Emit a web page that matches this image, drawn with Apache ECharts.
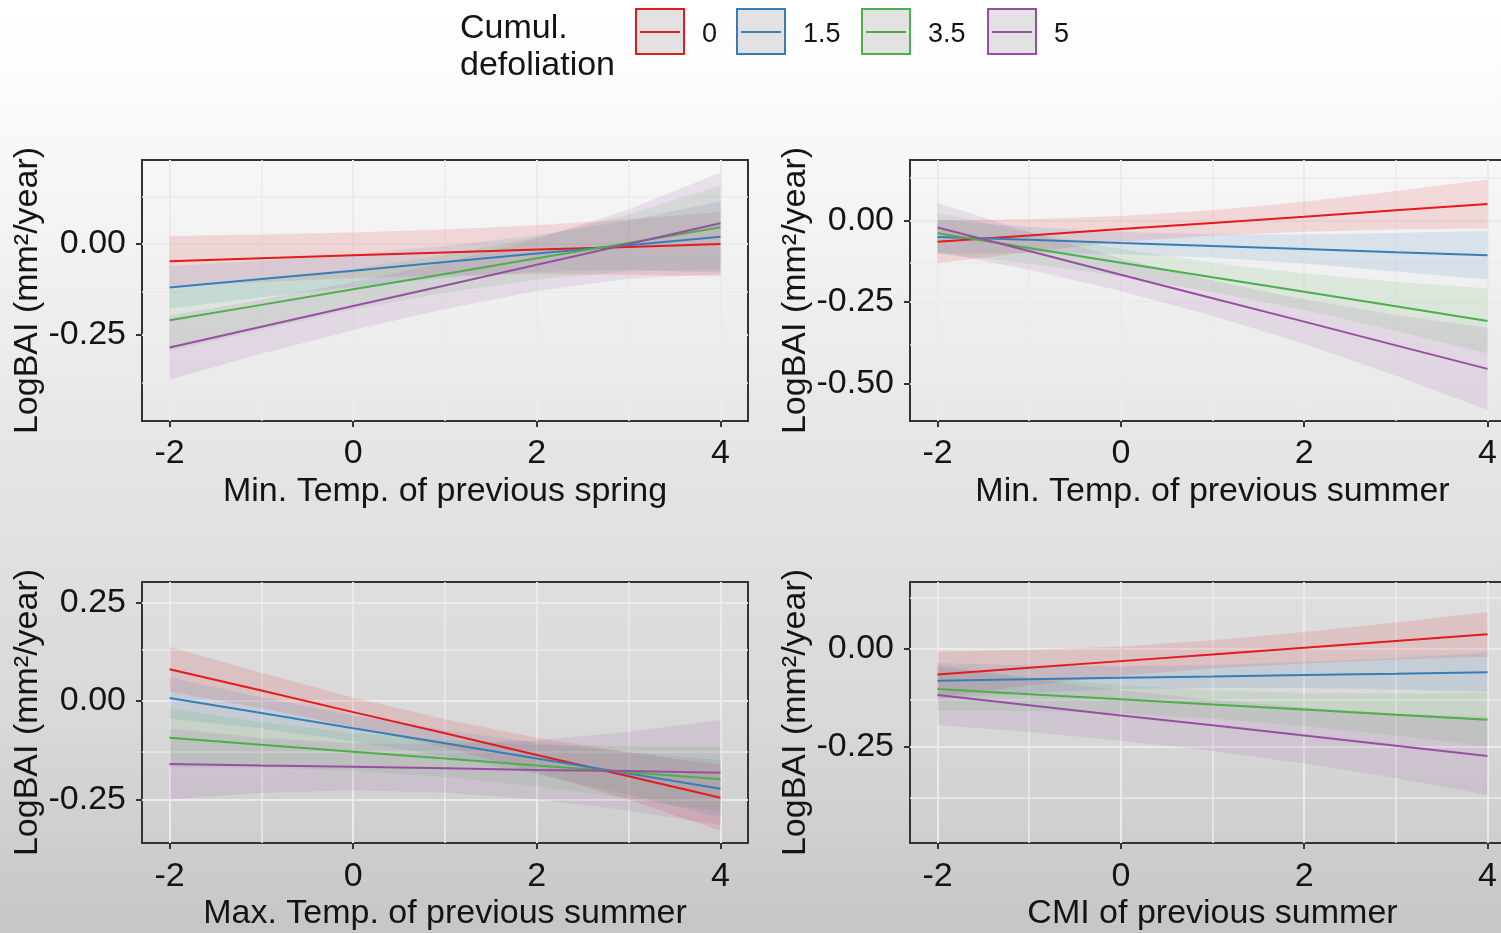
<!DOCTYPE html>
<html><head><meta charset="utf-8">
<script src="https://cdn.jsdelivr.net/npm/echarts@6/dist/echarts.min.js"></script>
<style>html,body{margin:0;padding:0;overflow:hidden;} #c{width:1501px;height:933px;}</style>
</head><body><div id="c"></div>
<script>
// ---------- data ----------
const xValues = [-2, -1, 0, 1, 2, 3, 4];
const xTicks = [-2, 0, 2, 4];
const xMinor = [-1, 1, 3];
const groups = ['0', '1.5', '3.5', '5'];
const colors = ['#E41A1C', '#377EB8', '#4DAF4A', '#984EA3'];
const legendTitle = 'Cumul.\ndefoliation';
const yTitle = 'LogBAI (mm²/year)';

// Panel 1: Min. Temp. of previous spring
const p1Title = 'Min. Temp. of previous spring';
const p1YTicks = [0, -0.25];
const p1YMinor = [0.125, -0.125, -0.375];
const p1Fit0 = [-0.047, -0.039, -0.031, -0.023, -0.015, -0.008, 0.000];
const p1Lo0  = [-0.116, -0.104, -0.094, -0.086, -0.082, -0.084, -0.088];
const p1Hi0  = [0.022, 0.026, 0.032, 0.040, 0.052, 0.068, 0.088];
const p1Fit1 = [-0.119, -0.096, -0.073, -0.049, -0.026, -0.003, 0.020];
const p1Lo1  = [-0.177, -0.146, -0.118, -0.093, -0.076, -0.071, -0.078];
const p1Hi1  = [-0.061, -0.046, -0.028, -0.005, 0.024, 0.065, 0.118];
const p1Fit2 = [-0.209, -0.167, -0.124, -0.082, -0.039, 0.003, 0.046];
const p1Lo2  = [-0.294, -0.235, -0.180, -0.134, -0.097, -0.075, -0.069];
const p1Hi2  = [-0.124, -0.099, -0.068, -0.030, 0.019, 0.081, 0.161];
const p1Fit3 = [-0.284, -0.227, -0.170, -0.114, -0.057, 0.000, 0.057];
const p1Lo3  = [-0.372, -0.301, -0.236, -0.178, -0.129, -0.095, -0.083];
const p1Hi3  = [-0.196, -0.153, -0.104, -0.050, 0.015, 0.095, 0.197];

// Panel 2: Min. Temp. of previous summer
const p2Title = 'Min. Temp. of previous summer';
const p2YTicks = [0, -0.25, -0.5];
const p2YMinor = [0.125, -0.125, -0.375];
const p2Fit0 = [-0.065, -0.046, -0.026, -0.007, 0.012, 0.032, 0.051];
const p2Lo0  = [-0.131, -0.096, -0.066, -0.046, -0.034, -0.027, -0.024];
const p2Hi0  = [0.001, 0.004, 0.014, 0.032, 0.058, 0.091, 0.126];
const p2Fit1 = [-0.050, -0.059, -0.069, -0.078, -0.087, -0.097, -0.106];
const p2Lo1  = [-0.102, -0.099, -0.103, -0.114, -0.132, -0.156, -0.181];
const p2Hi1  = [0.002, -0.019, -0.035, -0.042, -0.042, -0.038, -0.031];
const p2Fit2 = [-0.039, -0.084, -0.129, -0.174, -0.218, -0.263, -0.308];
const p2Lo2  = [-0.101, -0.132, -0.171, -0.219, -0.274, -0.338, -0.408];
const p2Hi2  = [0.023, -0.036, -0.087, -0.129, -0.162, -0.188, -0.208];
const p2Fit3 = [-0.021, -0.093, -0.166, -0.238, -0.310, -0.383, -0.455];
const p2Lo3  = [-0.097, -0.151, -0.216, -0.292, -0.378, -0.476, -0.581];
const p2Hi3  = [0.055, -0.035, -0.116, -0.184, -0.242, -0.290, -0.329];

// Panel 3: Max. Temp. of previous summer
const p3Title = 'Max. Temp. of previous summer';
const p3YTicks = [0.25, 0, -0.25];
const p3YMinor = [0.125, -0.125];
const p3Fit0 = [0.081, 0.027, -0.028, -0.082, -0.137, -0.191, -0.246];
const p3Lo0  = [0.024, -0.018, -0.065, -0.118, -0.181, -0.251, -0.330];
const p3Hi0  = [0.138, 0.072, 0.009, -0.046, -0.093, -0.131, -0.162];
const p3Fit1 = [0.008, -0.030, -0.069, -0.107, -0.146, -0.184, -0.223];
const p3Lo1  = [-0.044, -0.070, -0.102, -0.140, -0.186, -0.238, -0.296];
const p3Hi1  = [0.060, 0.010, -0.036, -0.074, -0.106, -0.130, -0.150];
const p3Fit2 = [-0.093, -0.111, -0.129, -0.146, -0.164, -0.181, -0.199];
const p3Lo2  = [-0.168, -0.169, -0.177, -0.193, -0.217, -0.247, -0.282];
const p3Hi2  = [-0.018, -0.053, -0.081, -0.099, -0.111, -0.115, -0.116];
const p3Fit3 = [-0.160, -0.164, -0.167, -0.171, -0.175, -0.178, -0.182];
const p3Lo3  = [-0.250, -0.234, -0.227, -0.233, -0.250, -0.278, -0.316];
const p3Hi3  = [-0.070, -0.094, -0.107, -0.109, -0.100, -0.078, -0.048];

// Panel 4: CMI of previous summer
const p4Title = 'CMI of previous summer';
const p4YTicks = [0, -0.25];
const p4YMinor = [0.125, -0.125, -0.375];
const p4Fit0 = [-0.066, -0.049, -0.032, -0.015, 0.002, 0.019, 0.036];
const p4Lo0  = [-0.124, -0.094, -0.069, -0.051, -0.038, -0.028, -0.021];
const p4Hi0  = [-0.008, -0.004, 0.005, 0.021, 0.042, 0.066, 0.093];
const p4Fit1 = [-0.082, -0.078, -0.074, -0.071, -0.067, -0.064, -0.060];
const p4Lo1  = [-0.127, -0.113, -0.103, -0.100, -0.100, -0.104, -0.110];
const p4Hi1  = [-0.037, -0.043, -0.045, -0.042, -0.034, -0.024, -0.010];
const p4Fit2 = [-0.103, -0.116, -0.129, -0.142, -0.155, -0.168, -0.181];
const p4Lo2  = [-0.158, -0.159, -0.165, -0.178, -0.197, -0.221, -0.249];
const p4Hi2  = [-0.048, -0.073, -0.093, -0.106, -0.113, -0.115, -0.113];
const p4Fit3 = [-0.118, -0.144, -0.170, -0.195, -0.221, -0.247, -0.273];
const p4Lo3  = [-0.194, -0.212, -0.234, -0.260, -0.292, -0.329, -0.372];
const p4Hi3  = [-0.042, -0.076, -0.106, -0.130, -0.150, -0.165, -0.174];

// ---------- layout / styling ----------
const FONT = '"Liberation Sans", Arial, sans-serif';
const TXT = '#141414';
const panels = [
  { title: p1Title, yTicks: p1YTicks, yMinor: p1YMinor, ymin: -0.486, ymax: 0.231,
    grid: { left: 142, top: 160, width: 606, height: 261 }, labGap: 16, nameGap: 54,
    fits: [p1Fit0, p1Fit1, p1Fit2, p1Fit3], los: [p1Lo0, p1Lo1, p1Lo2, p1Lo3], his: [p1Hi0, p1Hi1, p1Hi2, p1Hi3] },
  { title: p2Title, yTicks: p2YTicks, yMinor: p2YMinor, ymin: -0.615, ymax: 0.186,
    grid: { left: 910, top: 160, width: 605, height: 261 }, labGap: 16, nameGap: 54,
    fits: [p2Fit0, p2Fit1, p2Fit2, p2Fit3], los: [p2Lo0, p2Lo1, p2Lo2, p2Lo3], his: [p2Hi0, p2Hi1, p2Hi2, p2Hi3] },
  { title: p3Title, yTicks: p3YTicks, yMinor: p3YMinor, ymin: -0.361, ymax: 0.303,
    grid: { left: 142, top: 582, width: 606, height: 261 }, labGap: 17, nameGap: 54,
    fits: [p3Fit0, p3Fit1, p3Fit2, p3Fit3], los: [p3Lo0, p3Lo1, p3Lo2, p3Lo3], his: [p3Hi0, p3Hi1, p3Hi2, p3Hi3] },
  { title: p4Title, yTicks: p4YTicks, yMinor: p4YMinor, ymin: -0.494, ymax: 0.169,
    grid: { left: 910, top: 582, width: 605, height: 261 }, labGap: 17, nameGap: 54,
    fits: [p4Fit0, p4Fit1, p4Fit2, p4Fit3], los: [p4Lo0, p4Lo1, p4Lo2, p4Lo3], his: [p4Hi0, p4Hi1, p4Hi2, p4Hi3] }
];

function rgba(hex, a) {
  const n = parseInt(hex.slice(1), 16);
  return 'rgba(' + ((n >> 16) & 255) + ',' + ((n >> 8) & 255) + ',' + (n & 255) + ',' + a + ')';
}

const grids = [], xAxes = [], yAxes = [], series = [];
panels.forEach((p, pi) => {
  grids.push(Object.assign({ show: true, borderColor: '#333', borderWidth: 2,
    backgroundColor: 'transparent', containLabel: false, outerBoundsMode: 'none' }, p.grid));
  xAxes.push({
    type: 'value', gridIndex: pi, min: -2.3, max: 4.3,
    name: p.title, nameLocation: 'middle', nameGap: p.nameGap,
    nameTextStyle: { fontFamily: FONT, fontSize: 34, color: TXT },
    axisLine: { show: false, onZero: false }, splitLine: { show: false },
    axisTick: { show: true, customValues: xTicks, length: 6, lineStyle: { color: '#333', width: 2 } },
    axisLabel: { customValues: xTicks, margin: p.labGap, fontFamily: FONT, fontSize: 34, color: TXT,
      formatter: v => String(v) }
  });
  yAxes.push({
    type: 'value', gridIndex: pi, min: p.ymin, max: p.ymax,
    name: yTitle, nameLocation: 'middle', nameGap: 89,
    nameTextStyle: { fontFamily: FONT, fontSize: 34, color: TXT },
    axisLine: { show: false, onZero: false }, splitLine: { show: false },
    axisTick: { show: true, customValues: p.yTicks, length: 6, lineStyle: { color: '#333', width: 2 } },
    axisLabel: { customValues: p.yTicks, margin: 16, fontFamily: FONT, fontSize: 34, color: TXT,
      formatter: v => v.toFixed(2) }
  });
  // gridlines
  const gl = [];
  xTicks.forEach(v => gl.push({ xAxis: v, lineStyle: { width: 2 } }));
  xMinor.forEach(v => gl.push({ xAxis: v, lineStyle: { width: 1.5 } }));
  p.yTicks.forEach(v => gl.push({ yAxis: v, lineStyle: { width: 2 } }));
  p.yMinor.forEach(v => gl.push({ yAxis: v, lineStyle: { width: 1.5 } }));
  series.push({
    type: 'line', xAxisIndex: pi, yAxisIndex: pi, data: [], silent: true, z: 0,
    markLine: { silent: true, symbol: ['none', 'none'], label: { show: false }, z: 0,
      animation: false, lineStyle: { type: 'solid', color: '#ebebeb', width: 2 }, data: gl }
  });
  // bands
  groups.forEach((g, gi) => {
    const lo = p.los[gi], hi = p.his[gi];
    series.push({
      type: 'custom', xAxisIndex: pi, yAxisIndex: pi, silent: true, z: 2, clip: true,
      data: xValues.map((x, i) => [x, lo[i], hi[i]]),
      encode: { x: 0, y: [1, 2] },
      renderItem: function (params, api) {
        if (params.dataIndex !== 0) return null;
        const pts = [];
        for (let i = 0; i < xValues.length; i++) pts.push(api.coord([xValues[i], lo[i]]));
        for (let i = xValues.length - 1; i >= 0; i--) pts.push(api.coord([xValues[i], hi[i]]));
        return { type: 'polygon', shape: { points: pts }, style: { fill: rgba(colors[gi], 0.13) } };
      }
    });
  });
  // fitted lines
  groups.forEach((g, gi) => {
    series.push({
      type: 'line', name: g, xAxisIndex: pi, yAxisIndex: pi, z: 3,
      data: xValues.map((x, i) => [x, p.fits[gi][i]]),
      showSymbol: false, symbol: 'none', silent: true,
      lineStyle: { color: colors[gi], width: 2 }
    });
  });
});

// legend drawn as graphic
const legendX = [636, 737, 862, 988];
const graphic = [{
  type: 'text', left: 460, top: 10,
  style: { text: legendTitle, fontFamily: FONT, fontSize: 34, lineHeight: 37, fill: TXT }
}];
groups.forEach((g, gi) => {
  const x = legendX[gi];
  graphic.push({ type: 'rect', shape: { x: x, y: 9, width: 48, height: 45 },
    style: { fill: '#e2e2e2', stroke: colors[gi], lineWidth: 2 } });
  graphic.push({ type: 'line', shape: { x1: x + 4, y1: 32, x2: x + 44, y2: 32 },
    style: { stroke: colors[gi], lineWidth: 2 } });
  graphic.push({ type: 'text', x: x + 66, y: 35,
    style: { text: g, fontFamily: FONT, fontSize: 27, fill: TXT, verticalAlign: 'middle', align: 'left' } });
});

const chart = echarts.init(document.getElementById('c'), null, { renderer: 'canvas' });
chart.setOption({
  animation: false,
  backgroundColor: {
    type: 'linear', x: 0, y: 0, x2: 0, y2: 1,
    colorStops: [
      { offset: 0, color: '#ffffff' },
      { offset: 0.1, color: '#fbfbfb' },
      { offset: 0.3, color: '#f0f0f0' },
      { offset: 0.55, color: '#e2e2e2' },
      { offset: 0.78, color: '#d8d8d8' },
      { offset: 1, color: '#c6c6c6' }
    ]
  },
  grid: grids, xAxis: xAxes, yAxis: yAxes, series: series, graphic: graphic
});
</script></body></html>
